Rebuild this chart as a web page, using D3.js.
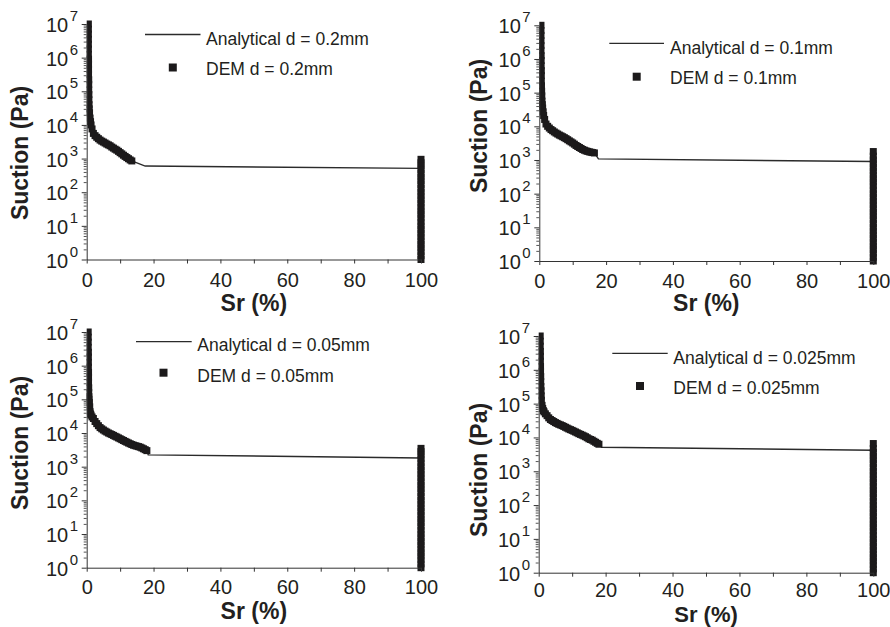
<!DOCTYPE html>
<html><head><meta charset="utf-8">
<script src="https://cdn.jsdelivr.net/npm/d3@7"></script>
<style>
body{margin:0;background:#fff}
svg{display:block}
text{font-family:"Liberation Sans",Arial,Helvetica,sans-serif;fill:#231f20}
</style>
</head><body>
<svg id="chart" width="890" height="627"></svg>
<script>
// ---------------- DATA ----------------
const particleSizes = ["0.2", "0.1", "0.05", "0.025"];
const xTickValues = [0, 10, 20, 30, 40, 50, 60, 70, 80, 90, 100];
const xTickLabels = [0, 20, 40, 60, 80, 100];
const yDecades = [0, 1, 2, 3, 4, 5, 6, 7];
const xTitle = "Sr (%)";
const yTitle = "Suction (Pa)";

// DEM points [Sr (%), suction (Pa)] in the pendular range
const dem_02 = [[0.5,1e7],[0.5,7e6],[0.5,5e6],[0.5,3.5e6],[0.5,2.5e6],[0.5,1.8e6],[0.5,1.25e6],[0.55,9e5],[0.55,6.3e5],[0.55,4.5e5],[0.55,3.2e5],[0.6,2.2e5],[0.6,1.6e5],[0.6,1.1e5],[0.65,8e4],[0.65,5.6e4],[0.7,4e4],[0.75,3e4],[0.85,2.3e4],[1.0,1.6e4],[1.15,1.25e4],[1.3,1e4],[1.6,7600],[2,5600],[2.5,4800],[3,4300],[3.5,3900],[4,3550],[4.5,3300],[5,3100],[5.5,2900],[6,2700],[6.5,2550],[7,2400],[7.5,2200],[8,2050],[8.5,1900],[9,1780],[9.5,1640],[10,1500],[10.5,1380],[11,1260],[11.5,1160],[12,1070],[12.5,990],[13,910],[13.5,850]];
const dem_01 = [[0.5,1e7],[0.5,7e6],[0.5,5e6],[0.5,3.5e6],[0.5,2.5e6],[0.5,1.8e6],[0.55,1.25e6],[0.55,9e5],[0.55,6.3e5],[0.6,4.5e5],[0.6,3.2e5],[0.6,2.2e5],[0.65,1.6e5],[0.7,1.1e5],[0.75,8e4],[0.8,5.6e4],[0.9,4.4e4],[1.0,3.5e4],[1.15,2.7e4],[1.3,2.1e4],[1.6,1.6e4],[2,1.17e4],[2.5,1e4],[3,8900],[3.5,8000],[4,7400],[4.5,6800],[5,6300],[5.5,5900],[6,5500],[6.5,5200],[7,4900],[7.5,4600],[8,4300],[8.5,4000],[9,3700],[9.5,3450],[10,3200],[10.5,2950],[11,2700],[11.5,2520],[12,2350],[12.5,2200],[13,2050],[13.5,1950],[14,1860],[14.5,1800],[15,1740],[15.5,1700],[16,1660],[16.5,1620]];
const dem_005 = [[0.45,1e7],[0.45,7e6],[0.45,5e6],[0.45,3.5e6],[0.5,2.5e6],[0.5,1.8e6],[0.5,1.25e6],[0.5,9e5],[0.55,6.3e5],[0.55,4.5e5],[0.55,3.2e5],[0.6,2.2e5],[0.6,1.6e5],[0.65,1.2e5],[0.7,1e5],[0.8,8e4],[0.9,6e4],[1.0,4.3e4],[1.15,3.7e4],[1.3,3.4e4],[1.6,3e4],[2,2.7e4],[2.5,2.2e4],[3,1.9e4],[3.5,1.65e4],[4,1.45e4],[4.5,1.33e4],[5,1.23e4],[5.5,1.14e4],[6,1.07e4],[6.5,1e4],[7,9500],[7.5,9000],[8,8500],[8.5,8000],[9,7600],[9.5,7150],[10,6750],[10.5,6350],[11,6000],[11.5,5650],[12,5350],[12.5,5050],[13,4800],[13.5,4550],[14,4350],[14.5,4200],[15,4070],[15.5,3940],[16,3800],[16.5,3600],[17,3400],[17.5,3200],[18,3000]];
const dem_0025 = [[0.45,1e7],[0.45,7e6],[0.45,5e6],[0.5,3.5e6],[0.5,2.5e6],[0.5,1.8e6],[0.55,1.25e6],[0.55,9e5],[0.6,6.3e5],[0.6,4.5e5],[0.65,3.2e5],[0.7,2.4e5],[0.75,1.7e5],[0.8,1.26e5],[1.0,8.9e4],[1.2,7.2e4],[1.4,6.2e4],[1.6,5.7e4],[2,5e4],[2.5,4.4e4],[3,3.8e4],[3.5,3.4e4],[4,3.16e4],[4.5,2.95e4],[5,2.75e4],[5.5,2.6e4],[6,2.45e4],[6.5,2.35e4],[7,2.24e4],[7.5,2.12e4],[8,2e4],[8.5,1.89e4],[9,1.78e4],[9.5,1.7e4],[10,1.62e4],[10.5,1.53e4],[11,1.45e4],[11.5,1.37e4],[12,1.29e4],[12.5,1.23e4],[13,1.17e4],[13.5,1.11e4],[14,1.05e4],[14.5,9800],[15,9100],[15.5,8700],[16,8300],[16.5,7700],[17,7200],[17.5,6700],[18,6300]];

// DEM points at full saturation (Sr = 100 %): suction values (Pa)
const demSat_02 = [1,1.3,1.7,2.2,2.8,3.6,4.7,6,7.8,10,13,17,22,28,36,47,60,78,100,130,170,220,280,360,470,600,750,950];
const demSat_01 = [1,1.3,1.7,2.2,2.8,3.6,4.7,6,7.8,10,13,17,22,28,36,47,60,78,100,130,170,220,280,360,470,600,780,1000,1300,1780];
const demSat_005 = [1,1.3,1.7,2.2,2.8,3.6,4.7,6,7.8,10,13,17,22,28,36,47,60,78,100,130,170,220,280,360,470,600,780,1000,1300,1700,2200,2800,3500];
const demSat_0025 = [1,1.3,1.7,2.2,2.8,3.6,4.7,6,7.8,10,13,17,22,28,36,47,60,78,100,130,170,220,280,360,470,600,780,1000,1300,1700,2200,2800,3600,4700,6600];

// Analytical curves [Sr (%), suction (Pa)]
const analytical_02 = [[0.45,1e7],[0.5,1e6],[0.6,1e5],[0.8,2.5e4],[1.3,1e4],[2,5600],[4,3550],[7,2400],[10,1500],[13.5,850],[17.5,600],[100,510]];
const analytical_01 = [[0.45,1e7],[0.5,1e6],[0.65,1.5e5],[1.0,3.5e4],[2,1.17e4],[4,7400],[7,4900],[10,3200],[14,1860],[16.5,1620],[17.7,1080],[100,900]];
const analytical_005 = [[0.4,1e7],[0.5,1e6],[0.7,1e5],[1.0,4.3e4],[2,2.7e4],[4,1.45e4],[7,9500],[10,6750],[14,4350],[18,3000],[18.4,2250],[100,1820]];
const analytical_0025 = [[0.4,1e7],[0.5,1e6],[0.75,1.7e5],[1.0,8.9e4],[2,5e4],[4,3.16e4],[7,2.24e4],[10,1.62e4],[14,1.05e4],[18,6300],[18.8,5150],[100,4170]];

// ---------------- LAYOUT ----------------
const panels = [
  {dem: dem_02, sat: demSat_02, ana: analytical_02, size: particleSizes[0],
   x0: 86.7, x1: 421, yTop: 24, yBot: 259.5, ytX: 28, ytY: 153, tickPad: 9, xtY: 310.5, xtFs: 23,
   legLine: [145, 200.5, 34.5], legTextX: 206, leg1Y: 38.5, legSq: [172.8, 67.5], leg2Y: 69},
  {dem: dem_01, sat: demSat_01, ana: analytical_01, size: particleSizes[1],
   x0: 539.3, x1: 873.3, yTop: 25.3, yBot: 261, ytX: 486.5, ytY: 126, tickPad: 9, xtY: 311, xtFs: 23,
   legLine: [609.3, 664, 43.3], legTextX: 670, leg1Y: 48, legSq: [636.7, 76.7], leg2Y: 77.7},
  {dem: dem_005, sat: demSat_005, ana: analytical_005, size: particleSizes[2],
   x0: 86.7, x1: 421, yTop: 332, yBot: 567.7, ytX: 28, ytY: 443, tickPad: 8, xtY: 619, xtFs: 23,
   legLine: [136, 191.7, 341.7], legTextX: 197.3, leg1Y: 345, legSq: [163.5, 372.7], leg2Y: 375.5},
  {dem: dem_0025, sat: demSat_0025, ana: analytical_0025, size: particleSizes[3],
   x0: 538.7, x1: 873.3, yTop: 336, yBot: 572.7, ytX: 487, ytY: 470, tickPad: 6.5, xtY: 622, xtFs: 22,
   legLine: [612.3, 667.7, 353.3], legTextX: 673.3, leg1Y: 357.5, legSq: [640, 386], leg2Y: 387.5}
];

const svg = d3.select("#chart");
const W = 890, H = 627;
const ink = "#231f20";
const sq = 7;

panels.forEach((p, i) => {
  const x = d3.scaleLinear().domain([0, 100]).range([p.x0, p.x1]);
  const y = d3.scaleLog().domain([1, 1e7]).range([p.yBot, p.yTop]);
  const g = svg.append("g");

  const cid = "clip" + i;
  svg.append("clipPath").attr("id", cid).append("rect")
    .attr("x", p.x0).attr("y", 0).attr("width", W - p.x0).attr("height", H);

  // analytical line
  g.append("path").datum(p.ana)
    .attr("d", d3.line().x(d => x(d[0])).y(d => y(d[1])))
    .attr("fill", "none").attr("stroke", "#2b2b2b").attr("stroke-width", 1.4)
    .attr("clip-path", `url(#${cid})`);

  // DEM squares
  const allDem = p.dem.concat(p.sat.map(s => [100, s]));
  g.append("g").attr("clip-path", `url(#${cid})`)
    .selectAll("rect").data(allDem).join("rect")
    .attr("x", d => x(d[0]) - sq / 2).attr("y", d => y(d[1]) - sq / 2)
    .attr("width", sq).attr("height", sq).attr("fill", "#1c1a1b");

  // x axis
  const xa = g.append("g").attr("transform", `translate(0,${p.yBot})`)
    .call(d3.axisBottom(x).tickValues(xTickValues).tickSize(4).tickSizeOuter(0).tickPadding(p.tickPad)
      .tickFormat(d => xTickLabels.includes(d) ? d : ""));
  xa.select(".domain").attr("stroke", "#333");
  xa.selectAll(".tick line").attr("stroke", "#333");
  xa.selectAll("text").attr("font-size", 20).attr("fill", ink)
    .attr("font-family", '"Liberation Sans",Arial,sans-serif');

  // y axis major ticks
  const ya = g.append("g").attr("transform", `translate(${p.x0},0)`)
    .call(d3.axisLeft(y).tickValues(yDecades.map(k => Math.pow(10, k))).tickSize(5).tickSizeOuter(0).tickFormat(""));
  ya.select(".domain").attr("stroke", "#333");
  ya.selectAll(".tick line").attr("stroke", "#333");
  // y axis minor ticks
  const minors = [];
  yDecades.slice(0, -1).forEach(k => { for (let m = 2; m <= 9; m++) minors.push(m * Math.pow(10, k)); });
  const ym = g.append("g").attr("transform", `translate(${p.x0},0)`)
    .call(d3.axisLeft(y).tickValues(minors).tickSize(3).tickSizeOuter(0).tickFormat(""));
  ym.select(".domain").remove();
  ym.selectAll(".tick line").attr("stroke", "#555");

  // y tick labels 10^k
  yDecades.forEach(k => {
    const ty = y(Math.pow(10, k));
    g.append("text").attr("x", p.x0 - 18.5).attr("y", ty + 8)
      .attr("text-anchor", "end").attr("font-size", 20).text("10");
    g.append("text").attr("x", p.x0 - 17).attr("y", ty - 3)
      .attr("font-size", 15).text(k);
  });

  // axis titles
  g.append("text").attr("x", (p.x0 + p.x1) / 2).attr("y", p.xtY)
    .attr("text-anchor", "middle").attr("font-size", p.xtFs).attr("font-weight", "bold").text(xTitle);
  g.append("text").attr("transform", `translate(${p.ytX},${p.ytY}) rotate(-90)`)
    .attr("text-anchor", "middle").attr("font-size", 23).attr("font-weight", "bold").text(yTitle);

  // legend
  g.append("line").attr("x1", p.legLine[0]).attr("x2", p.legLine[1])
    .attr("y1", p.legLine[2]).attr("y2", p.legLine[2])
    .attr("stroke", "#2b2b2b").attr("stroke-width", 1.3);
  g.append("text").attr("x", p.legTextX).attr("y", p.leg1Y + 6.2)
    .attr("font-size", 17.5).text(`Analytical d = ${p.size}mm`);
  g.append("rect").attr("x", p.legSq[0] - 4).attr("y", p.legSq[1] - 4)
    .attr("width", 8).attr("height", 8).attr("fill", "#1c1a1b");
  g.append("text").attr("x", p.legTextX).attr("y", p.leg2Y + 6.2)
    .attr("font-size", 17.5).text(`DEM d = ${p.size}mm`);
});
</script>
</body></html>
